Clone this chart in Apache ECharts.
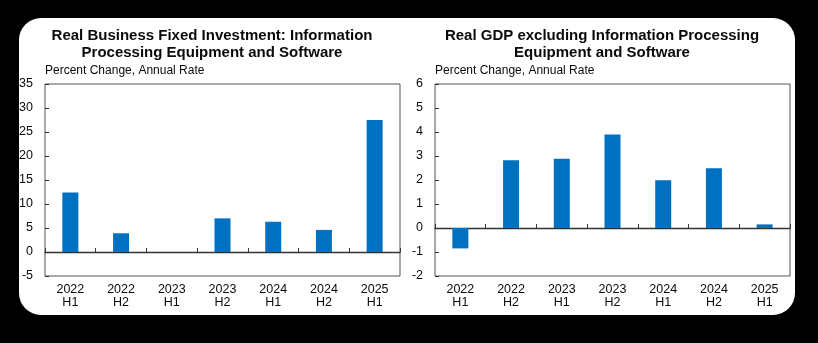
<!DOCTYPE html>
<html>
<head>
<meta charset="utf-8">
<script src="https://cdn.jsdelivr.net/npm/echarts@6/dist/echarts.min.js"></script>
<style>html,body{margin:0;padding:0;background:#000;}#c{width:818px;height:343px;}</style>
</head>
<body>
<div id="c"></div>
<script>
const categories = ['2022\nH1','2022\nH2','2023\nH1','2023\nH2','2024\nH1','2024\nH2','2025\nH1'];
const investValues = [12.4, 3.9, 0, 7.0, 6.3, 4.6, 27.5];
const gdpValues = [-0.85, 2.82, 2.89, 3.9, 1.99, 2.49, 0.15];
const leftTitle = 'Real Business Fixed Investment: Information\nProcessing Equipment and Software';
const rightTitle = 'Real GDP excluding Information Processing\nEquipment and Software';
const unitLabel = 'Percent Change, Annual Rate';

const FONT = '"Liberation Sans", Arial, sans-serif';
const BLUE = '#0070C0';
const chart = echarts.init(document.getElementById('c'), null, {renderer: 'canvas'});

function yAxis(grid, min, max, interval) {
  return {
    type: 'value', gridIndex: grid, min: min, max: max, interval: interval,
    axisLine: {show: false},
    axisTick: {show: true, inside: true, length: 4, lineStyle: {color: '#333'}},
    splitLine: {show: false},
    axisLabel: {margin: 12, color: '#0a0a0a', fontSize: 12.5, fontFamily: FONT}
  };
}
function xLabelAxis(grid) {
  return {
    type: 'category', gridIndex: grid, data: categories, position: 'bottom',
    axisLine: {show: false, onZero: false}, axisTick: {show: false},
    axisLabel: {margin: 7, color: '#0a0a0a', fontSize: 12.5, fontFamily: FONT, lineHeight: 13}
  };
}
function xZeroAxis(grid) {
  return {
    type: 'category', gridIndex: grid, data: categories, position: 'bottom',
    axisLine: {show: true, onZero: true, lineStyle: {color: '#333', width: 1.3}},
    axisTick: {show: true, inside: true, length: 4, lineStyle: {color: '#333'}},
    axisLabel: {show: false}
  };
}

chart.setOption({
  backgroundColor: '#000',
  animation: false,
  graphic: [{
    type: 'rect', z: -10, silent: true,
    shape: {x: 19, y: 18, width: 776, height: 297, r: 22},
    style: {fill: '#fff'}
  }],
  title: [
    {text: leftTitle, left: 212, top: 27, textAlign: 'center', padding: 0,
     textStyle: {fontSize: 15, fontWeight: 'bold', fontFamily: FONT, color: '#0a0a0a', lineHeight: 17}},
    {text: rightTitle, left: 602, top: 27, textAlign: 'center', padding: 0,
     textStyle: {fontSize: 15, fontWeight: 'bold', fontFamily: FONT, color: '#0a0a0a', lineHeight: 17}},
    {text: unitLabel, left: 45, top: 65, padding: 0,
     textStyle: {fontSize: 12, fontWeight: 'normal', fontFamily: FONT, color: '#0a0a0a'}},
    {text: unitLabel, left: 435, top: 65, padding: 0,
     textStyle: {fontSize: 12, fontWeight: 'normal', fontFamily: FONT, color: '#0a0a0a'}}
  ],
  grid: [
    {left: 45, top: 84, width: 355, height: 192, show: true, borderColor: '#555', borderWidth: 1, backgroundColor: 'transparent'},
    {left: 435, top: 84, width: 355, height: 192, show: true, borderColor: '#555', borderWidth: 1, backgroundColor: 'transparent'}
  ],
  xAxis: [xLabelAxis(0), xZeroAxis(0), xLabelAxis(1), xZeroAxis(1)],
  yAxis: [yAxis(0, -5, 35, 5), yAxis(1, -2, 6, 1)],
  series: [
    {type: 'bar', xAxisIndex: 0, yAxisIndex: 0, data: investValues, barWidth: 16, itemStyle: {color: BLUE}},
    {type: 'bar', xAxisIndex: 2, yAxisIndex: 1, data: gdpValues, barWidth: 16, itemStyle: {color: BLUE}}
  ]
});
</script>
</body>
</html>
